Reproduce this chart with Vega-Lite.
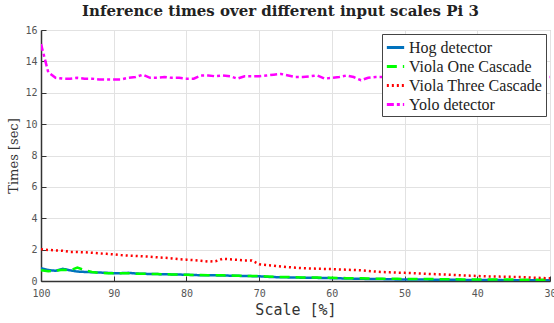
{
  "$schema": "https://vega.github.io/schema/vega-lite/v6.json",
  "width": 509,
  "height": 251,
  "autosize": {"type": "none"},
  "padding": {"left": 41, "top": 30, "right": 4, "bottom": 42},
  "background": "white",
  "title": {"text": "Inference times over different input scales Pi 3", "font": "DejaVu Serif", "fontSize": 15, "fontWeight": "bold", "color": "#222", "anchor": "middle", "offset": 6, "dx": -15},
  "config": {
    "view": {"stroke": "#aaa", "strokeWidth": 1},
    "axis": {"gridColor": "#e2e2e2", "gridWidth": 1, "domainColor": "#333", "domainWidth": 1.5, "tickColor": "#333", "labelFont": "DejaVu Sans Mono", "labelFontSize": 10, "labelColor": "#555"},
    "legend": {"orient": "top-right", "offset": 4, "title": null, "symbolType": "stroke", "symbolStrokeWidth": 3, "symbolSize": 300, "labelFont": "Liberation Serif", "labelFontSize": 16, "labelColor": "#222", "labelLimit": 300, "fillColor": "white", "strokeColor": "#444", "padding": 3, "rowPadding": -2, "labelOffset": 3}
  },
  "data": {"values": [
    {"s":100,"hog":0.82,"v1":0.68,"v3":2.03,"yolo":15.1},
    {"s":99,"hog":0.7,"v1":0.62,"v3":1.98,"yolo":13.3},
    {"s":98,"hog":0.65,"v1":0.65,"v3":1.95,"yolo":12.95},
    {"s":97,"hog":0.78,"v1":0.72,"v3":1.93,"yolo":12.9},
    {"s":96,"hog":0.68,"v1":0.68,"v3":1.85,"yolo":12.9},
    {"s":95,"hog":0.6,"v1":0.85,"v3":1.85,"yolo":12.95},
    {"s":94,"hog":0.58,"v1":0.7,"v3":1.83,"yolo":12.9},
    {"s":93,"hog":0.56,"v1":0.58,"v3":1.8,"yolo":12.9},
    {"s":92,"hog":0.54,"v1":0.52,"v3":1.76,"yolo":12.85},
    {"s":91,"hog":0.52,"v1":0.5,"v3":1.73,"yolo":12.85},
    {"s":90,"hog":0.5,"v1":0.49,"v3":1.7,"yolo":12.85},
    {"s":89,"hog":0.5,"v1":0.49,"v3":1.65,"yolo":12.85},
    {"s":88,"hog":0.52,"v1":0.5,"v3":1.62,"yolo":12.95},
    {"s":87,"hog":0.48,"v1":0.47,"v3":1.6,"yolo":13.0},
    {"s":86,"hog":0.46,"v1":0.46,"v3":1.57,"yolo":13.15},
    {"s":85,"hog":0.45,"v1":0.45,"v3":1.55,"yolo":12.95},
    {"s":84,"hog":0.44,"v1":0.44,"v3":1.51,"yolo":12.95},
    {"s":83,"hog":0.43,"v1":0.43,"v3":1.48,"yolo":13.0},
    {"s":82,"hog":0.42,"v1":0.42,"v3":1.44,"yolo":12.95},
    {"s":81,"hog":0.41,"v1":0.41,"v3":1.39,"yolo":12.95},
    {"s":80,"hog":0.4,"v1":0.4,"v3":1.36,"yolo":12.9},
    {"s":79,"hog":0.38,"v1":0.39,"v3":1.33,"yolo":12.9},
    {"s":78,"hog":0.37,"v1":0.38,"v3":1.29,"yolo":13.1},
    {"s":77,"hog":0.36,"v1":0.37,"v3":1.24,"yolo":13.1},
    {"s":76,"hog":0.36,"v1":0.36,"v3":1.26,"yolo":13.05},
    {"s":75,"hog":0.35,"v1":0.36,"v3":1.42,"yolo":13.1},
    {"s":74,"hog":0.34,"v1":0.35,"v3":1.38,"yolo":13.05},
    {"s":73,"hog":0.33,"v1":0.34,"v3":1.35,"yolo":12.9},
    {"s":72,"hog":0.32,"v1":0.33,"v3":1.3,"yolo":13.05},
    {"s":71,"hog":0.31,"v1":0.32,"v3":1.3,"yolo":13.05},
    {"s":70,"hog":0.3,"v1":0.31,"v3":1.07,"yolo":13.05},
    {"s":69,"hog":0.27,"v1":0.29,"v3":1.02,"yolo":13.1},
    {"s":68,"hog":0.25,"v1":0.27,"v3":0.98,"yolo":13.15},
    {"s":67,"hog":0.24,"v1":0.26,"v3":0.92,"yolo":13.2},
    {"s":66,"hog":0.23,"v1":0.25,"v3":0.88,"yolo":13.1},
    {"s":65,"hog":0.22,"v1":0.24,"v3":0.85,"yolo":13.0},
    {"s":64,"hog":0.21,"v1":0.23,"v3":0.82,"yolo":13.0},
    {"s":63,"hog":0.2,"v1":0.22,"v3":0.8,"yolo":13.05},
    {"s":62,"hog":0.2,"v1":0.22,"v3":0.78,"yolo":13.1},
    {"s":61,"hog":0.19,"v1":0.21,"v3":0.77,"yolo":12.9},
    {"s":60,"hog":0.18,"v1":0.2,"v3":0.76,"yolo":12.95},
    {"s":59,"hog":0.17,"v1":0.19,"v3":0.74,"yolo":13.0},
    {"s":58,"hog":0.16,"v1":0.18,"v3":0.72,"yolo":13.1},
    {"s":57,"hog":0.15,"v1":0.18,"v3":0.7,"yolo":13.0},
    {"s":56,"hog":0.14,"v1":0.17,"v3":0.68,"yolo":12.8},
    {"s":55,"hog":0.13,"v1":0.16,"v3":0.64,"yolo":12.95},
    {"s":54,"hog":0.12,"v1":0.15,"v3":0.6,"yolo":13.0},
    {"s":53,"hog":0.12,"v1":0.15,"v3":0.57,"yolo":13.0},
    {"s":52,"hog":0.11,"v1":0.14,"v3":0.55,"yolo":13.0},
    {"s":51,"hog":0.1,"v1":0.14,"v3":0.53,"yolo":13.0},
    {"s":50,"hog":0.1,"v1":0.13,"v3":0.52,"yolo":13.0},
    {"s":49,"hog":0.09,"v1":0.13,"v3":0.5,"yolo":13.0},
    {"s":48,"hog":0.09,"v1":0.12,"v3":0.48,"yolo":13.0},
    {"s":47,"hog":0.09,"v1":0.12,"v3":0.46,"yolo":13.0},
    {"s":46,"hog":0.08,"v1":0.12,"v3":0.44,"yolo":13.0},
    {"s":45,"hog":0.08,"v1":0.11,"v3":0.42,"yolo":13.0},
    {"s":44,"hog":0.08,"v1":0.11,"v3":0.4,"yolo":13.0},
    {"s":43,"hog":0.08,"v1":0.11,"v3":0.38,"yolo":13.0},
    {"s":42,"hog":0.07,"v1":0.1,"v3":0.36,"yolo":13.0},
    {"s":41,"hog":0.07,"v1":0.1,"v3":0.34,"yolo":13.0},
    {"s":40,"hog":0.07,"v1":0.1,"v3":0.32,"yolo":13.0},
    {"s":39,"hog":0.06,"v1":0.1,"v3":0.3,"yolo":13.0},
    {"s":38,"hog":0.06,"v1":0.09,"v3":0.29,"yolo":13.0},
    {"s":37,"hog":0.06,"v1":0.09,"v3":0.28,"yolo":13.0},
    {"s":36,"hog":0.05,"v1":0.09,"v3":0.27,"yolo":13.0},
    {"s":35,"hog":0.05,"v1":0.09,"v3":0.26,"yolo":13.0},
    {"s":34,"hog":0.05,"v1":0.08,"v3":0.25,"yolo":13.0},
    {"s":33,"hog":0.05,"v1":0.08,"v3":0.23,"yolo":13.0},
    {"s":32,"hog":0.04,"v1":0.08,"v3":0.21,"yolo":13.0},
    {"s":31,"hog":0.04,"v1":0.08,"v3":0.19,"yolo":13.0},
    {"s":30,"hog":0.04,"v1":0.07,"v3":0.17,"yolo":13.0}
  ]},
  "transform": [{"fold": ["hog", "v1", "v3", "yolo"], "as": ["series", "t"]}],
  "mark": {"type": "line", "strokeWidth": 2.5, "clip": true},
  "encoding": {
    "x": {"field": "s", "type": "quantitative", "scale": {"domain": [100, 30]},
      "axis": {"values": [100, 90, 80, 70, 60, 50, 40, 30], "title": "Scale [%]", "titleFont": "DejaVu Sans Mono", "titleFontSize": 15, "titleFontWeight": "normal", "titleColor": "#333", "titlePadding": 4, "tickSize": -5, "labelPadding": 12, "labelFlush": false}},
    "y": {"field": "t", "type": "quantitative", "scale": {"domain": [0, 16]},
      "axis": {"values": [0, 2, 4, 6, 8, 10, 12, 14, 16], "title": "Times [sec]", "titleFont": "DejaVu Serif", "titleFontSize": 13, "titleFontWeight": "normal", "titleColor": "#333", "titlePadding": 4, "tickSize": -5, "labelPadding": 9}},
    "color": {"field": "series", "type": "nominal",
      "scale": {"domain": ["hog", "v1", "v3", "yolo"], "range": ["#0072BD", "#00FF00", "#FF0000", "#FF00FF"]},
      "legend": {"labelExpr": "datum.label == 'hog' ? 'Hog detector' : datum.label == 'v1' ? 'Viola One Cascade' : datum.label == 'v3' ? 'Viola Three Cascade' : 'Yolo detector'"}},
    "strokeDash": {"field": "series", "type": "nominal",
      "scale": {"domain": ["hog", "v1", "v3", "yolo"], "range": [[1, 0], [10, 6], [2, 3], [7, 3, 3, 3]]},
      "legend": {"labelExpr": "datum.label == 'hog' ? 'Hog detector' : datum.label == 'v1' ? 'Viola One Cascade' : datum.label == 'v3' ? 'Viola Three Cascade' : 'Yolo detector'"}}
  }
}
